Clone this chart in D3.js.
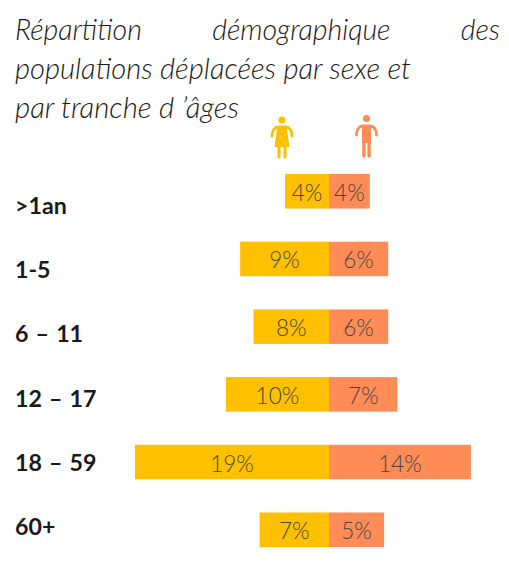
<!DOCTYPE html>
<html><head><meta charset="utf-8">
<script src="https://cdn.jsdelivr.net/npm/d3@7"></script>
<style>html,body{margin:0;padding:0;background:#fff}svg{display:block}</style>
</head><body><svg id="c" width="509" height="588"></svg>
<script>
const ages=[">1an","1-5","6 – 11","12 – 17","18 – 59","60+"];
const femmes=[4.3,8.7,7.4,10.1,19,6.8];
const hommes=[4,5.8,5.8,6.7,13.9,5.4];
const femmesLabels=["4%","9%","8%","10%","19%","7%"];
const hommesLabels=["4%","6%","6%","7%","14%","5%"];
const titleLines=["Répartition démographique des","populations déplacées par sexe et","par tranche d ’âges"];
const svg=d3.select("#c");
const font="Lato, 'Open Sans', sans-serif";
const x=d3.scaleLinear().domain([-19,19]).range([135,523]);
const y=d3.scaleBand().domain(ages).range([174,547]).paddingInner(0.49).paddingOuter(0);
const labelY=d3.scalePoint().domain(ages).range([205,526]);
const title=svg.append("g").attr("font-family",font).attr("font-style","italic").attr("font-weight",300).attr("font-size",28.5).attr("fill","#1a1a1a");
titleLines.forEach((t,i)=>{
  const el=title.append("text").attr("x",15).attr("y",40+i*39).text(t);
  if(i===0){const w=el.node().getComputedTextLength();el.attr("word-spacing",(485-w)/2);}
  if(i===1){el.attr("textLength",396).attr("lengthAdjust","spacingAndGlyphs");}
  if(i===2){el.attr("textLength",224).attr("lengthAdjust","spacingAndGlyphs");}
});
svg.append("g").selectAll("rect").data(ages).join("rect").attr("x",(d,i)=>x(-femmes[i])).attr("y",d=>y(d)).attr("width",(d,i)=>x(0)-x(-femmes[i])).attr("height",y.bandwidth()).attr("fill","#FFC000");
svg.append("g").selectAll("rect").data(ages).join("rect").attr("x",x(0)).attr("y",d=>y(d)).attr("width",(d,i)=>x(hommes[i])-x(0)).attr("height",y.bandwidth()).attr("fill","#FF8C57");
const vl=svg.append("g").attr("font-family",font).attr("font-weight",300).attr("font-size",22.5).attr("fill","#454545").attr("text-anchor","middle").attr("dominant-baseline","central");
vl.selectAll(".f").data(ages).join("text").attr("class","f").attr("x",(d,i)=>(x(-femmes[i])+x(0))/2).attr("y",d=>y(d)+y.bandwidth()/2+1).text((d,i)=>femmesLabels[i]);
vl.selectAll(".h").data(ages).join("text").attr("class","h").attr("x",(d,i)=>(x(hommes[i])+x(0))/2).attr("y",d=>y(d)+y.bandwidth()/2+1).text((d,i)=>hommesLabels[i]);
svg.append("g").attr("font-family",font).attr("font-weight",700).attr("font-size",23.2).attr("word-spacing",1.5).attr("fill","#1a1a1a").attr("dominant-baseline","central").selectAll("text").data(ages).join("text").attr("x",15).attr("y",d=>labelY(d)).text(d=>d);
// Woman icon
const w=svg.append("g").attr("transform","translate(282,0)").attr("fill","#FFC000").attr("stroke","#FFC000");
w.append("circle").attr("cx",0).attr("cy",120).attr("r",3.6).attr("stroke","none");
w.append("path").attr("fill","none").attr("stroke-width",2.8).attr("stroke-linecap","round").attr("d","M-10 136 C-10 130,-7 127,-4 127 L4 127 C7 127,10 130,10 136");
w.append("path").attr("stroke","none").attr("d","M-4.5 126 L4.5 126 L7.5 147 L-7.5 147 Z");
w.append("path").attr("fill","none").attr("stroke-width",3).attr("stroke-linecap","round").attr("d","M-3 146 L-3 157 M3 146 L3 157");
// Man icon
const m=svg.append("g").attr("transform","translate(366.5,0)").attr("fill","#FF8C57").attr("stroke","#FF8C57");
m.append("circle").attr("cx",0).attr("cy",118.5).attr("r",3.6).attr("stroke","none");
m.append("path").attr("fill","none").attr("stroke-width",2.8).attr("stroke-linecap","round").attr("d","M-10 135 C-10 129,-7 126,-4 126 L4 126 C7 126,10 129,10 135");
m.append("rect").attr("x",-4.5).attr("y",125).attr("width",9).attr("height",18).attr("stroke","none");
m.append("path").attr("fill","none").attr("stroke-width",3.4).attr("stroke-linecap","round").attr("d","M-2.6 142 L-2.6 156 M2.6 142 L2.6 156");
</script></body></html>
